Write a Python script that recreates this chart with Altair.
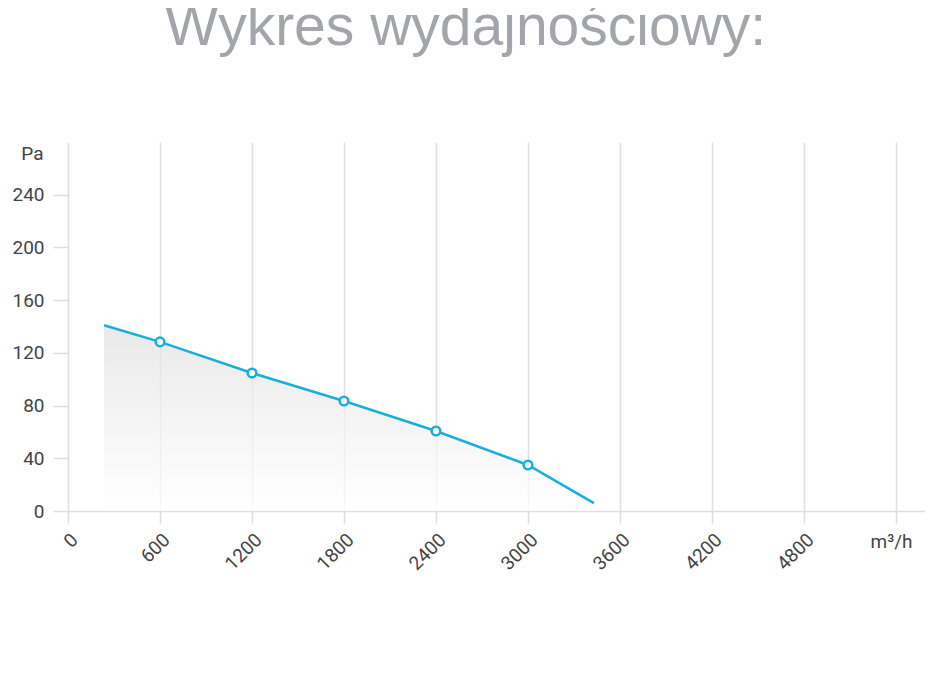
import altair as alt
import pandas as pd

# curve (flow m3/h vs pressure Pa)
flow = [235, 600, 1200, 1800, 2400, 3000, 3430]
pressure = [141, 128.3, 104.7, 83.5, 60.7, 34.9, 6]
# marker points
pt_flow = [600, 1200, 1800, 2400, 3000]
pt_pressure = [128.3, 104.7, 83.5, 60.7, 34.9]

x_ticks = [0, 600, 1200, 1800, 2400, 3000, 3600, 4200, 4800, 5400]
y_ticks = [0, 40, 80, 120, 160, 200, 240]

curve = pd.DataFrame({"q": flow, "p": pressure})
pts = pd.DataFrame({"q": pt_flow, "p": pt_pressure})

GRID = "#dedede"
LINE = "#1aaee0"
LBL = "#444444"
FS = 19

xs = alt.Scale(domain=[0, 5590], nice=False, zero=False)
ys = alt.Scale(domain=[0, 280], nice=False)

xaxis = alt.Axis(
    values=x_ticks, format="d",
    labelExpr="datum.value == 5400 ? '' : datum.label",
    labelAngle=-45, labelFontSize=FS, labelColor=LBL, labelFont="Roboto",
    labelPadding=7,
    grid=True, gridColor=GRID, gridWidth=1.5,
    ticks=True, tickSize=12, tickColor=GRID, tickWidth=1.5,
    domain=True, domainColor=GRID, domainWidth=1.5,
    title="m³/h", titleAngle=0, titleX=823, titleY=30, titleAlign="center",
    titleBaseline="middle", titleFontSize=FS, titleFontWeight="normal",
    titleColor=LBL, titleFont="Roboto",
)
yaxis = alt.Axis(
    values=y_ticks, grid=False, domain=False,
    labelFontSize=FS, labelColor=LBL, labelFont="Roboto", labelPadding=9,
    ticks=True, tickSize=15, tickColor=GRID, tickWidth=1.5,
    title="Pa", titleAngle=0, titleX=-25, titleY=11, titleAlign="right",
    titleBaseline="middle", titleFontSize=FS, titleFontWeight="normal",
    titleColor=LBL, titleFont="Roboto",
)

base = alt.Chart(curve)

area = base.mark_area(
    opacity=0.75,
    color=alt.Gradient(
        gradient="linear",
        stops=[alt.GradientStop(color="#e2e2e2", offset=0),
               alt.GradientStop(color="#ffffff", offset=1)],
        x1=0, x2=0, y1=0, y2=1,
    ),
).encode(
    x=alt.X("q:Q", scale=xs, axis=xaxis),
    y=alt.Y("p:Q", scale=ys, axis=yaxis),
)

line = base.mark_line(color=LINE, strokeWidth=2.5).encode(
    x=alt.X("q:Q", scale=xs), y=alt.Y("p:Q", scale=ys)
)

points = alt.Chart(pts).mark_point(
    filled=True, fill="white", stroke=LINE, strokeWidth=2.5, size=75, opacity=1
).encode(x=alt.X("q:Q", scale=xs), y=alt.Y("p:Q", scale=ys))

chart = alt.layer(area, line, points).properties(
    width=857, height=369,
    autosize=alt.AutoSizeParams(type="none"),
    padding={"left": 60, "top": 134, "right": 0, "bottom": 100},
    title=alt.TitleParams(
        "Wykres wydajnościowy:", fontSize=57, font="Liberation Sans",
        fontWeight="normal", color="#a3a5aa", anchor="middle",
        baseline="alphabetic", offset=40, dx=-31,
    ),
).configure_view(stroke=None)

chart.save("out.html", embed_options={"renderer": "svg", "actions": False})
